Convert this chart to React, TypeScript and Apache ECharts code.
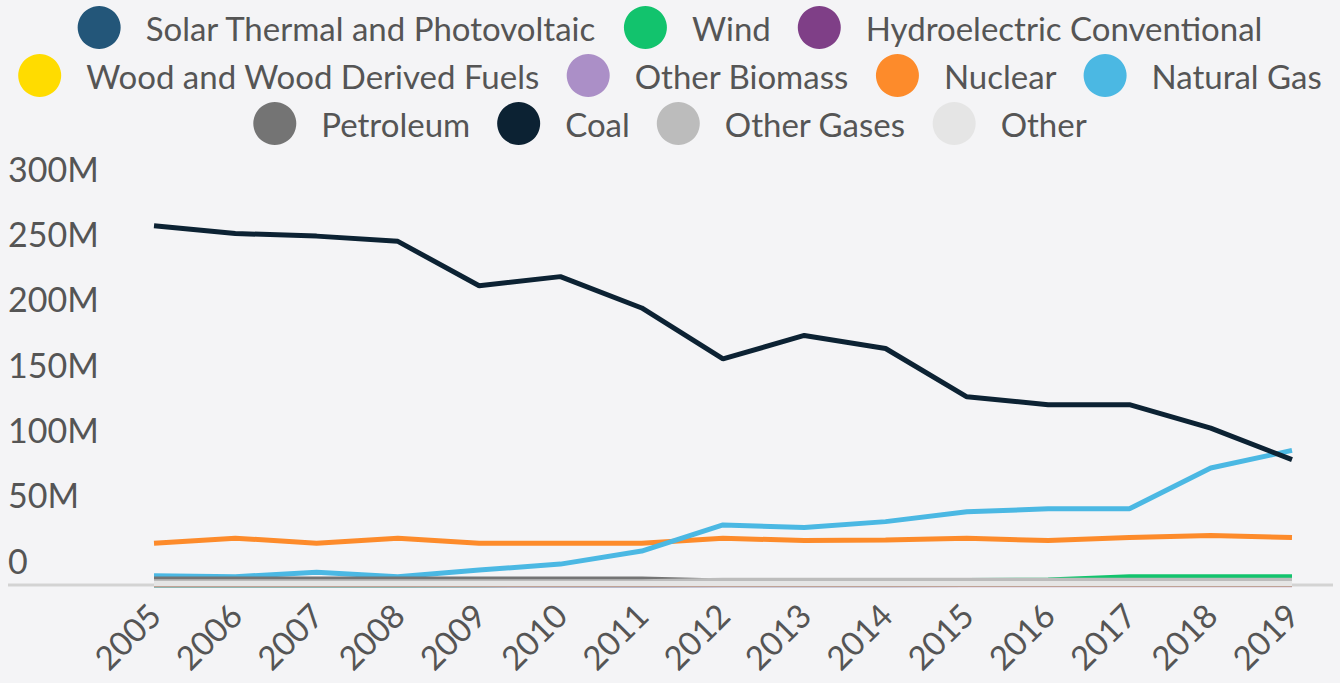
import React, { useEffect, useRef } from "react";
import * as echarts from "echarts";

const years = ["2005", "2006", "2007", "2008", "2009", "2010", "2011", "2012", "2013", "2014", "2015", "2016", "2017", "2018", "2019"];

// values in millions
const solar = [0, 0, 0, 0, 0, 0, 0, 0.1, 0.1, 0.2, 0.3, 0.4, 0.5, 0.5, 0.5];
const wind = [0, 0, 0, 0, 0.2, 0.5, 1, 3.5, 3.5, 3.5, 3.5, 3.8, 6.3, 6.3, 6.3];
const hydro = [0.1, 0.1, 0.1, 0.1, 0.1, 0.1, 0.1, 0.1, 0.1, 0.1, 0.1, 0.1, 0.1, 0.1, 0.1];
const wood = [0.3, 0.3, 0.3, 0.3, 0.3, 0.3, 0.3, 0.3, 0.3, 0.3, 0.3, 0.3, 0.3, 0.3, 0.3];
const otherBiomass = [0.5, 0.5, 0.5, 0.5, 0.5, 0.5, 0.5, 0.5, 0.5, 0.5, 0.5, 0.5, 0.5, 0.5, 0.5];
const nuclear = [32, 35.8, 32, 35.8, 32, 32, 32, 35.8, 34, 34.5, 35.8, 34, 36.3, 37.8, 36.3];
const naturalGas = [7, 6.4, 9.7, 6.4, 11.5, 16, 26, 46, 44, 48.5, 56, 58.3, 58.3, 89.5, 103];
const petroleum = [4.5, 4.5, 4.5, 4.5, 4.5, 4.5, 4.5, 3, 3, 3, 3, 3, 3, 3, 3];
const coal = [275, 269, 267, 263, 229, 236, 212, 173, 191, 181, 144, 138, 138, 120, 96];
const otherGases = [2.5, 2.5, 2.5, 2.5, 2.5, 2.5, 2.5, 3.6, 3.6, 3.6, 3.6, 3.6, 3.6, 3.6, 3.6];
const other = [1.1, 1.1, 1.1, 1.1, 1.1, 1.1, 1.1, 1.1, 1.1, 1.1, 1.1, 1.1, 1.1, 1.1, 1.1];

const seriesDefs = [
  { name: "Solar Thermal and Photovoltaic", color: "#235679", data: solar },
  { name: "Wind", color: "#12c36d", data: wind },
  { name: "Hydroelectric Conventional", color: "#7f3f87", data: hydro },
  { name: "Wood and Wood Derived Fuels", color: "#ffdc00", data: wood },
  { name: "Other Biomass", color: "#ab8fc7", data: otherBiomass },
  { name: "Nuclear", color: "#fd8b2b", data: nuclear },
  { name: "Natural Gas", color: "#4bb8e3", data: naturalGas },
  { name: "Petroleum", color: "#747474", data: petroleum },
  { name: "Coal", color: "#0c2233", data: coal },
  { name: "Other Gases", color: "#bcbcbc", data: otherGases },
  { name: "Other", color: "#e5e5e5", data: other },
];

const legendRows = [
  ["Solar Thermal and Photovoltaic", "Wind", "Hydroelectric Conventional"],
  ["Wood and Wood Derived Fuels", "Other Biomass", "Nuclear", "Natural Gas"],
  ["Petroleum", "Coal", "Other Gases", "Other"],
];
const legendTops = [6, 54, 102];

const FONT = "Lato";
const TEXT = "#555555";
const FS = 33;

export default function App() {
  const ref = useRef<HTMLDivElement>(null);
  useEffect(() => {
    if (!ref.current) return;
    const chart = echarts.init(ref.current, null, { renderer: "svg" });
    chart.setOption({
      animation: false,
      backgroundColor: "#f4f4f6",
      textStyle: { fontFamily: FONT },
      legend: legendRows.map((row, i) => ({
        data: row,
        top: legendTops[i],
        left: "center",
        orient: "horizontal",
        padding: 0,
        icon: "circle",
        itemWidth: 43,
        itemHeight: 43,
        itemGap: 27,
        textStyle: { fontSize: FS, color: TEXT, fontFamily: FONT, padding: [0, 0, 0, 20] },
      })),
      grid: { left: 154, right: 48, top: 193, bottom: 98, containLabel: false, outerBoundsMode: "none" },
      xAxis: {
        type: "category",
        data: years,
        boundaryGap: false,
        axisLine: { show: false },
        axisTick: { show: false },
        splitLine: { show: false },
        axisLabel: { rotate: 45, fontSize: FS, color: TEXT, fontFamily: FONT, margin: 24, interval: 0 },
      },
      yAxis: {
        type: "value",
        min: 0,
        max: 300,
        interval: 50,
        splitLine: { show: false },
        axisLine: { show: false },
        axisTick: { show: false },
        axisLabel: {
          formatter: (v: number) => (v === 0 ? "0" : v + "M"),
          align: "left",
          verticalAlign: "bottom",
          padding: [0, 0, 8, 0],
          margin: 146,
          fontSize: 34,
          color: TEXT,
          fontFamily: FONT,
        },
      },
      graphic: [
        {
          type: "line",
          silent: true,
          z: 0,
          shape: { x1: 8, y1: 585, x2: 1333, y2: 585 },
          style: { stroke: "#d3d3d3", lineWidth: 3 },
        },
      ],
      series: seriesDefs.map((s) => ({
        name: s.name,
        type: "line",
        data: s.data,
        showSymbol: false,
        symbol: "none",
        color: s.color,
        lineStyle: { width: 5, color: s.color },
        emphasis: { disabled: true },
      })),
    });
    return () => chart.dispose();
  }, []);
  return (
    <div
      ref={ref}
      style={{ position: "absolute", left: 0, top: 0, width: 1340, height: 683 }}
    />
  );
}
